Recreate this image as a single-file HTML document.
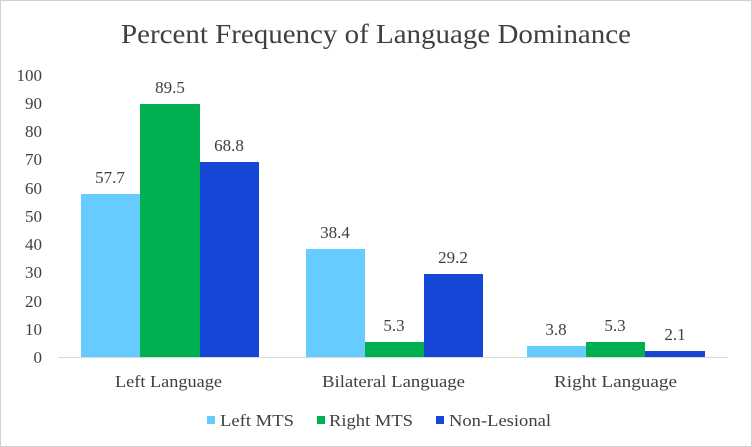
<!DOCTYPE html>
<html><head><style>
body{margin:0;background:#fff;}
svg{display:block;font-family:"Liberation Serif",serif;}
</style></head><body>
<svg width="752" height="447" viewBox="0 0 752 447">
<rect x="0.5" y="0.5" width="751" height="446" fill="#fff" stroke="#d0d0d0"/>
<text x="121" y="43" font-size="27" fill="#404040" textLength="510" lengthAdjust="spacingAndGlyphs">Percent Frequency of Language Dominance</text>
<g font-size="17" fill="#404040" text-anchor="end">
<text x="42" y="363">0</text><text x="42" y="335">10</text><text x="42" y="307">20</text><text x="42" y="278">30</text><text x="42" y="250">40</text><text x="42" y="222">50</text><text x="42" y="194">60</text><text x="42" y="165">70</text><text x="42" y="137">80</text><text x="42" y="109">90</text><text x="42" y="81">100</text>
</g>
<g>
<rect x="81" y="194" width="59" height="163" fill="#66CCFF"/>
<rect x="140" y="104" width="60" height="253" fill="#00B050"/>
<rect x="200" y="162" width="59" height="195" fill="#1447D8"/>
<rect x="306" y="249" width="59" height="108" fill="#66CCFF"/>
<rect x="365" y="342" width="59" height="15" fill="#00B050"/>
<rect x="424" y="274" width="59" height="83" fill="#1447D8"/>
<rect x="527" y="346" width="59" height="11" fill="#66CCFF"/>
<rect x="586" y="342" width="59" height="15" fill="#00B050"/>
<rect x="645" y="351" width="60" height="6" fill="#1447D8"/>
</g>
<line x1="58" y1="357.5" x2="728" y2="357.5" stroke="#d9d9d9"/>
<g font-size="17" fill="#404040" text-anchor="middle">
<text x="110" y="183">57.7</text><text x="170" y="93">89.5</text><text x="229" y="151">68.8</text>
<text x="335" y="238">38.4</text><text x="394" y="331">5.3</text><text x="453" y="263">29.2</text>
<text x="556" y="335">3.8</text><text x="615" y="331">5.3</text><text x="675" y="340">2.1</text>
</g>
<g font-size="17" fill="#404040">
<text x="115" y="387" textLength="107" lengthAdjust="spacingAndGlyphs">Left Language</text>
<text x="322" y="387" textLength="143" lengthAdjust="spacingAndGlyphs">Bilateral Language</text>
<text x="554" y="387" textLength="123" lengthAdjust="spacingAndGlyphs">Right Language</text>
</g>
<g font-size="17" fill="#404040">
<rect x="207" y="416" width="8" height="8" fill="#66CCFF"/><text x="220" y="426" textLength="74" lengthAdjust="spacingAndGlyphs">Left MTS</text>
<rect x="317" y="416" width="8" height="8" fill="#00B050"/><text x="329" y="426" textLength="84" lengthAdjust="spacingAndGlyphs">Right MTS</text>
<rect x="436" y="416" width="8" height="8" fill="#1447D8"/><text x="449" y="426" textLength="102" lengthAdjust="spacingAndGlyphs">Non-Lesional</text>
</g>
</svg>
</body></html>
